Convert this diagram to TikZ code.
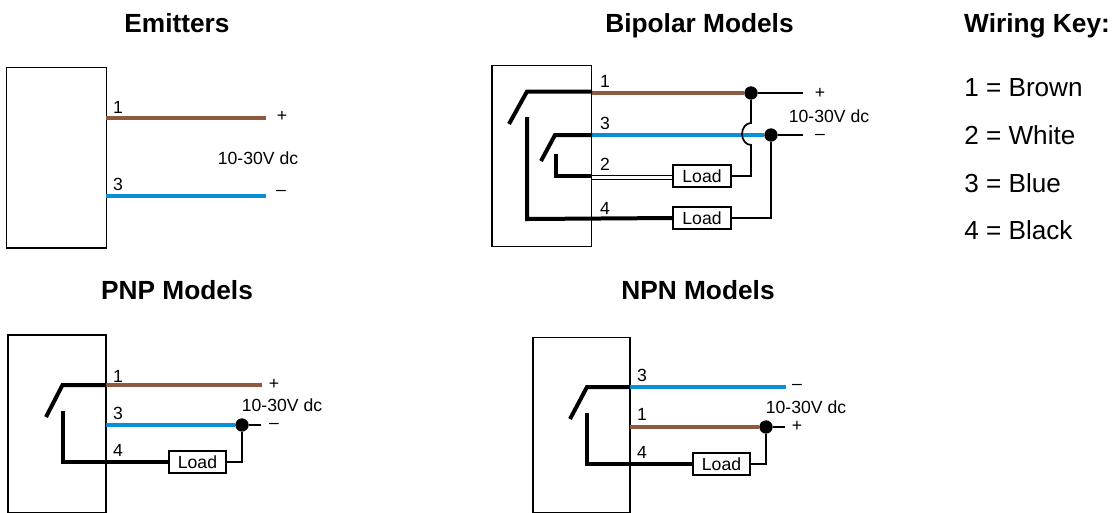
\documentclass[tikz,border=0pt]{standalone}
\usepackage{fontspec}
\setmainfont{Liberation Sans}
\definecolor{wbrown}{HTML}{8B5A3F}
\definecolor{wblue}{HTML}{0A8FD6}
\tikzset{
  x=0.75pt,y=-0.75pt,
  title/.style={font=\fontsize{19.7pt}{22pt}\selectfont\bfseries,inner sep=0pt,anchor=base},
  keytxt/.style={font=\fontsize{19.6pt}{22pt}\selectfont,inner sep=0pt,anchor=base west},
  lbl/.style={font=\fontsize{13.2pt}{15pt}\selectfont,inner sep=0pt},
  housing/.style={draw=black,line width=1.45pt},
  brownwire/.style={draw=wbrown,line width=3pt},
  bluewire/.style={draw=wblue,line width=3pt},
  thick wire/.style={draw=black,line width=3pt,line join=miter},
  thin wire/.style={draw=black,line width=1.3pt},
  loadbox/.style={draw=black,line width=1.7pt,fill=white,minimum width=43pt,minimum height=16.5pt,inner sep=0pt,font=\fontsize{13.2pt}{15pt}\selectfont},
  junction/.style={circle,fill=black,minimum size=10pt,inner sep=0pt},
}
\begin{document}
\begin{tikzpicture}
\useasboundingbox (0,0) rectangle (1112,512);
% titles
\node[title] (tE) at (177,32) {Emitters};
\node[title] (tB) at (699.5,32) {Bipolar Models};
\node[title] (tK) at (1037,32) {Wiring Key:};
\node[title] (tP) at (177,299) {PNP Models};
\node[title] (tN) at (698,299) {NPN Models};
% key
\node[keytxt] (k1) at (964,96) {1 = Brown};
\node[keytxt] (k2) at (964,144) {2 = White};
\node[keytxt] (k3) at (964,192) {3 = Blue};
\node[keytxt] (k4) at (964,239) {4 = Black};

% Emitters
\draw[housing] (6.5,67.5) rectangle (106.5,248);
\coordinate (e1a) at (106,118); \coordinate (e1b) at (266,118);
\coordinate (e3a) at (106,196); \coordinate (e3b) at (266,196);
\draw[brownwire] (e1a) -- (e1b);
\draw[bluewire] (e3a) -- (e3b);
\node[lbl] (e1) at (118,107) {1};
\node[lbl] (e3) at (118,184) {3};
\node[lbl] (ep) at (282,116) {+};
\node[lbl] (em) at (281,193) {–};
\node[lbl] (ev) at (258,158) {10-30V dc};

% Bipolar
\draw[housing] (492,65.5) rectangle (591.5,246.5);
\coordinate (b1a) at (592,93); \coordinate (b3a) at (592,135);
\coordinate (b2u) at (592,175.3); \coordinate (b2l) at (592,179);
\coordinate (b4a) at (592,219);
\node[junction] (bd1) at (751,93) {};
\node[junction] (bd3) at (771,135) {};
\coordinate (bp) at (803,93); \coordinate (bm) at (803,135);
\node[loadbox] (bl2) at (702,176) {Load};
\node[loadbox] (bl4) at (702,218) {Load};
\draw[brownwire] (b1a) -- (bd1);
\draw[bluewire] (b3a) -- (bd3);
\draw[thin wire] (bd1) -- (bp);
\draw[thin wire] (bd3) -- (bm);
\draw[draw=black,line width=0.7pt] (b2u) -- (bl2.west |- b2u);
\draw[draw=black,line width=0.7pt] (b2l) -- (bl2.west |- b2l);
\draw[thick wire] (592,91.5) -- (527,91.5) -- (509,124);
\draw[thick wire] (527,117) -- (527,219) -- (bl4.west);
\draw[thick wire] (592,135) -- (555,135) -- (541,161);
\draw[thick wire] (556,154) -- (556,176) -- (592,176);
\draw[thin wire] (bd1) -- (751,123) arc[start angle=-90,end angle=-270,x radius=9,y radius=11] -- (751,176) -- (bl2.east |- 0,176);
\draw[thin wire] (bd3) -- (771,218) -- (bl4.east);
\node[lbl] (b1) at (605,81) {1};
\node[lbl] (b3) at (605,123) {3};
\node[lbl] (b2) at (605,164) {2};
\node[lbl] (b4) at (605,208) {4};
\node[lbl] (bpl) at (820,93) {+};
\node[lbl] (bml) at (820,137) {–};
\node[lbl] (bv) at (829,116) {10-30V dc};

% PNP
\draw[housing,line width=1.2pt] (8,335) rectangle (106,513);
\coordinate (p1a) at (106,385); \coordinate (p1b) at (262,385);
\coordinate (p3a) at (106,425); \coordinate (pm) at (261,425);
\node[junction] (pd) at (242,425) {};
\node[loadbox] (pl) at (197.5,462) {Load};
\draw[brownwire] (p1a) -- (p1b);
\draw[bluewire] (p3a) -- (pd);
\draw[thin wire] (pd) -- (pm);
\draw[thick wire] (106,385) -- (62.5,385) -- (46,417);
\draw[thick wire] (62.5,411) -- (62.5,462) -- (pl.west);
\draw[thin wire] (pd) -- (242,462) -- (pl.east);
\node[lbl] (p1) at (118,376) {1};
\node[lbl] (p3) at (118,413) {3};
\node[lbl] (p4) at (118,450) {4};
\node[lbl] (ppl) at (274,384) {+};
\node[lbl] (pml) at (274,426) {–};
\node[lbl] (pv) at (282,405) {10-30V dc};

% NPN
\draw[housing,line width=1.2pt] (533,337.5) rectangle (630,513);
\coordinate (n3a) at (630,387); \coordinate (n3b) at (786,387);
\coordinate (n1a) at (630,427); \coordinate (nm) at (785,427);
\node[junction] (nd) at (766,427) {};
\node[loadbox] (nl) at (721.5,464) {Load};
\draw[bluewire] (n3a) -- (n3b);
\draw[brownwire] (n1a) -- (nd);
\draw[thin wire] (nd) -- (nm);
\draw[thick wire] (630,387) -- (587,387) -- (570,419);
\draw[thick wire] (587,413) -- (587,464) -- (nl.west);
\draw[thin wire] (nd) -- (766,464) -- (nl.east);
\node[lbl] (n3) at (642,375) {3};
\node[lbl] (n1) at (642,414) {1};
\node[lbl] (n4) at (642,452) {4};
\node[lbl] (npl) at (797,426) {+};
\node[lbl] (nml) at (797,387) {–};
\node[lbl] (nv) at (806,407) {10-30V dc};
\end{tikzpicture}
\end{document}
